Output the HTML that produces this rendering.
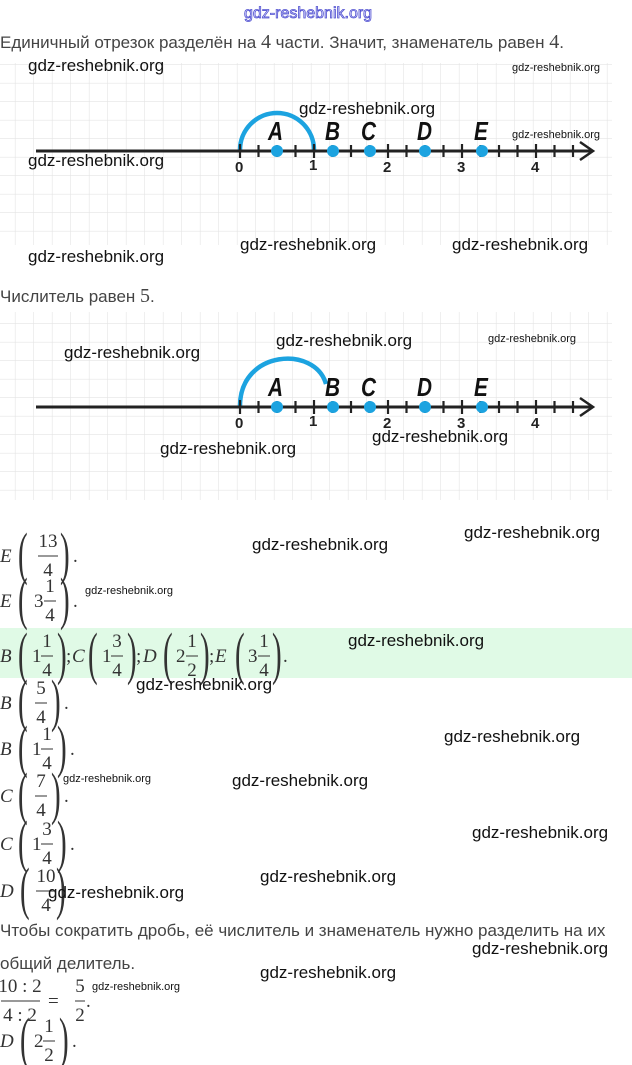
<!DOCTYPE html>
<html><head><meta charset="utf-8"><style>
html,body{margin:0;padding:0;background:#fff;width:632px;height:1065px;overflow:hidden}
svg{display:block}
.w{font-family:"Liberation Sans",sans-serif;font-size:17px;fill:#111}
.ws{font-family:"Liberation Sans",sans-serif;font-size:11px;fill:#111}
.t{font-family:"Liberation Sans","Noto Sans CJK SC",sans-serif;font-size:17px;fill:#444}
.m{font-family:"Liberation Serif",serif;font-size:19px;fill:#333}
.p{font-family:"Liberation Serif",serif;font-size:58px;fill:#333}
.mi{font-family:"Liberation Serif",serif;font-size:19px;font-style:italic;fill:#333}
.n{font-family:"Liberation Sans",sans-serif;font-size:15px;font-weight:bold;fill:#222}
.L{font-family:"Liberation Sans",sans-serif;font-size:26px;font-weight:bold;font-style:italic;fill:#111}
</style></head><body>
<svg width="632" height="1065" viewBox="0 0 632 1065" xmlns="http://www.w3.org/2000/svg">
<defs>
<pattern id="g" width="18.5" height="18.5" patternUnits="userSpaceOnUse" x="-3" y="65">
<path d="M18.5 0V18.5M0 18.5H18.5" fill="none" stroke="#e4e4e4" stroke-width="1.2"/></pattern>
<g id="ticks" stroke="#222" stroke-width="2.2">
<path d="M240 -7v14M258.5 -6v12M277 -6v12M295.5 -6v12M314 -7v14M332.5 -6v12M351 -6v12M369.5 -6v12M388 -7v14M406.5 -6v12M425 -6v12M443.5 -6v12M462 -7v14M480.5 -6v12M499 -6v12M517.5 -6v12M536 -7v14M554.5 -6v12M573 -6v12"/>
<path d="M36 0H592" stroke-width="3"/>
<path d="M580 -9L593 0L580 9" fill="none" stroke-width="2.5"/>
</g>
<g id="dots" fill="#1ca3e0"><circle cx="277" cy="0" r="6"/><circle cx="333" cy="0" r="6"/><circle cx="370" cy="0" r="6"/><circle cx="425" cy="0" r="6"/><circle cx="482" cy="0" r="6"/></g>
</defs>
<text x="244" y="18" font-family="Liberation Sans,sans-serif" font-size="16" fill="#e8e8ff" stroke="#4f4fd0" stroke-width="0.8">gdz-reshebnik.org</text>
<text class="t" x="0" y="48">Единичный отрезок разделён на <tspan font-family="Liberation Serif" style="font-size:20px">4</tspan> части. Значит, знаменатель равен <tspan font-family="Liberation Serif" style="font-size:20px">4</tspan>.</text>

<rect x="0" y="63" width="612" height="182" fill="url(#g)"/>
<path d="M240 150 A37 37 0 0 1 314 150" fill="none" stroke="#1ca3e0" stroke-width="4.5"/>
<g transform="translate(0,151)"><use href="#ticks"/><use href="#dots"/></g>
<g class="L"><text transform="translate(268,140) scale(0.8,1)">A</text><text transform="translate(325,140) scale(0.8,1)">B</text><text transform="translate(361,140) scale(0.8,1)">C</text><text transform="translate(417,140) scale(0.8,1)">D</text><text transform="translate(474,140) scale(0.8,1)">E</text></g>
<text class="n" x="235" y="172">0</text><text class="n" x="309" y="170">1</text><text class="n" x="383" y="172">2</text><text class="n" x="457" y="172">3</text><text class="n" x="531" y="172">4</text>

<text class="t" x="0" y="302">Числитель равен <tspan font-family="Liberation Serif" style="font-size:20px">5</tspan>.</text>
<rect x="0" y="312" width="612" height="188" fill="url(#g)"/>
<path d="M240 406 C240 350 315 345 326 384" fill="none" stroke="#1ca3e0" stroke-width="4.5"/>
<g transform="translate(0,407)"><use href="#ticks"/><use href="#dots"/></g>
<g class="L"><text transform="translate(268,396) scale(0.8,1)">A</text><text transform="translate(325,396) scale(0.8,1)">B</text><text transform="translate(361,396) scale(0.8,1)">C</text><text transform="translate(417,396) scale(0.8,1)">D</text><text transform="translate(474,396) scale(0.8,1)">E</text></g>
<text class="n" x="235" y="428">0</text><text class="n" x="309" y="426">1</text><text class="n" x="383" y="428">2</text><text class="n" x="457" y="428">3</text><text class="n" x="531" y="428">4</text>

<rect x="0" y="628" width="632" height="50" fill="#e0fae6"/>

<g transform="translate(0,555)">
<text class="mi" x="0" y="7">E</text>
<text class="p" transform="translate(18,18) scale(0.5,1)">(</text>
<text class="m" x="48" y="-8" text-anchor="middle">13</text><path d="M38 1H58" stroke="#333"/><text class="m" x="48" y="21" text-anchor="middle">4</text>
<text class="p" transform="translate(60,18) scale(0.5,1)">)</text><text class="m" x="73" y="7">.</text>
</g>
<g transform="translate(0,600)">
<text class="mi" x="0" y="7">E</text>
<text class="p" transform="translate(18,18) scale(0.5,1)">(</text>
<text class="m" x="34" y="7">3</text>
<text class="m" x="50" y="-8" text-anchor="middle">1</text><path d="M44 1H56" stroke="#333"/><text class="m" x="50" y="21" text-anchor="middle">4</text>
<text class="p" transform="translate(60,18) scale(0.5,1)">)</text><text class="m" x="73" y="7">.</text>
</g>
<g transform="translate(0,655)">
<text class="mi" x="0" y="7">B</text>
<text class="p" transform="translate(18,18) scale(0.5,1)">(</text>
<text class="m" x="32" y="7">1</text><text class="m" x="47" y="-8" text-anchor="middle">1</text><path d="M41 1H53" stroke="#333"/><text class="m" x="47" y="21" text-anchor="middle">4</text>
<text class="p" transform="translate(57,18) scale(0.5,1)">)</text>
<text class="m" x="66" y="7">;</text><text class="mi" x="72" y="7">C</text>
<text class="p" transform="translate(88,18) scale(0.5,1)">(</text>
<text class="m" x="102" y="7">1</text><text class="m" x="117" y="-8" text-anchor="middle">3</text><path d="M111 1H123" stroke="#333"/><text class="m" x="117" y="21" text-anchor="middle">4</text>
<text class="p" transform="translate(127,18) scale(0.5,1)">)</text>
<text class="m" x="136" y="7">;</text><text class="mi" x="143" y="7">D</text>
<text class="p" transform="translate(163,18) scale(0.5,1)">(</text>
<text class="m" x="176" y="7">2</text><text class="m" x="192" y="-8" text-anchor="middle">1</text><path d="M186 1H198" stroke="#333"/><text class="m" x="192" y="21" text-anchor="middle">2</text>
<text class="p" transform="translate(200,18) scale(0.5,1)">)</text>
<text class="m" x="209" y="7">;</text><text class="mi" x="215" y="7">E</text>
<text class="p" transform="translate(235,18) scale(0.5,1)">(</text>
<text class="m" x="248" y="7">3</text><text class="m" x="264" y="-8" text-anchor="middle">1</text><path d="M258 1H270" stroke="#333"/><text class="m" x="264" y="21" text-anchor="middle">4</text>
<text class="p" transform="translate(272,18) scale(0.5,1)">)</text><text class="m" x="283" y="7">.</text>
</g>
<g transform="translate(0,702)">
<text class="mi" x="0" y="7">B</text>
<text class="p" transform="translate(18,18) scale(0.5,1)">(</text>
<text class="m" x="41" y="-8" text-anchor="middle">5</text><path d="M35 1H47" stroke="#333"/><text class="m" x="41" y="21" text-anchor="middle">4</text>
<text class="p" transform="translate(51,18) scale(0.5,1)">)</text><text class="m" x="64" y="7">.</text>
</g>
<g transform="translate(0,748)">
<text class="mi" x="0" y="7">B</text>
<text class="p" transform="translate(18,18) scale(0.5,1)">(</text>
<text class="m" x="32" y="7">1</text><text class="m" x="47" y="-8" text-anchor="middle">1</text><path d="M41 1H53" stroke="#333"/><text class="m" x="47" y="21" text-anchor="middle">4</text>
<text class="p" transform="translate(57,18) scale(0.5,1)">)</text><text class="m" x="70" y="7">.</text>
</g>
<g transform="translate(0,795)">
<text class="mi" x="0" y="7">C</text>
<text class="p" transform="translate(18,18) scale(0.5,1)">(</text>
<text class="m" x="41" y="-8" text-anchor="middle">7</text><path d="M35 1H47" stroke="#333"/><text class="m" x="41" y="21" text-anchor="middle">4</text>
<text class="p" transform="translate(51,18) scale(0.5,1)">)</text><text class="m" x="64" y="7">.</text>
</g>
<g transform="translate(0,843)">
<text class="mi" x="0" y="7">C</text>
<text class="p" transform="translate(18,18) scale(0.5,1)">(</text>
<text class="m" x="32" y="7">1</text><text class="m" x="47" y="-8" text-anchor="middle">3</text><path d="M41 1H53" stroke="#333"/><text class="m" x="47" y="21" text-anchor="middle">4</text>
<text class="p" transform="translate(57,18) scale(0.5,1)">)</text><text class="m" x="70" y="7">.</text>
</g>
<g transform="translate(0,890)">
<text class="mi" x="0" y="7">D</text>
<text class="p" transform="translate(20,18) scale(0.5,1)">(</text>
<text class="m" x="46" y="-8" text-anchor="middle">10</text><path d="M36 1H56" stroke="#333"/><text class="m" x="46" y="21" text-anchor="middle">4</text>
<text class="p" transform="translate(56,18) scale(0.5,1)">)</text>
</g>
<text class="t" x="0" y="936">Чтобы сократить дробь, её числитель и знаменатель нужно разделить на их</text>
<text class="t" x="0" y="969">общий делитель.</text>
<g transform="translate(0,1000)">
<text class="m" x="20" y="-8" text-anchor="middle">10 : 2</text><path d="M1 1H40" stroke="#333"/><text class="m" x="20" y="21" text-anchor="middle">4 : 2</text>
<text class="m" x="48" y="7">=</text>
<text class="m" x="80" y="-8" text-anchor="middle">5</text><path d="M75 1H85" stroke="#333"/><text class="m" x="80" y="21" text-anchor="middle">2</text>
<text class="m" x="86" y="7">.</text>
</g>
<g transform="translate(0,1040)">
<text class="mi" x="0" y="7">D</text>
<text class="p" transform="translate(20,18) scale(0.5,1)">(</text>
<text class="m" x="34" y="7">2</text><text class="m" x="49" y="-8" text-anchor="middle">1</text><path d="M43 1H55" stroke="#333"/><text class="m" x="49" y="21" text-anchor="middle">2</text>
<text class="p" transform="translate(59,18) scale(0.5,1)">)</text><text class="m" x="72" y="7">.</text>
</g>

<text class="w" x="28" y="71">gdz-reshebnik.org</text>
<text class="ws" x="512" y="71">gdz-reshebnik.org</text>
<text class="w" x="299" y="114">gdz-reshebnik.org</text>
<text class="ws" x="512" y="138">gdz-reshebnik.org</text>
<text class="w" x="28" y="166">gdz-reshebnik.org</text>
<text class="w" x="240" y="250">gdz-reshebnik.org</text>
<text class="w" x="452" y="250">gdz-reshebnik.org</text>
<text class="w" x="28" y="262">gdz-reshebnik.org</text>
<text class="w" x="64" y="358">gdz-reshebnik.org</text>
<text class="w" x="276" y="346">gdz-reshebnik.org</text>
<text class="ws" x="488" y="342">gdz-reshebnik.org</text>
<text class="w" x="160" y="454">gdz-reshebnik.org</text>
<text class="w" x="372" y="442">gdz-reshebnik.org</text>
<text class="w" x="464" y="538">gdz-reshebnik.org</text>
<text class="w" x="252" y="550">gdz-reshebnik.org</text>
<text class="ws" x="85" y="594">gdz-reshebnik.org</text>
<text class="w" x="348" y="646">gdz-reshebnik.org</text>
<text class="w" x="136" y="690">gdz-reshebnik.org</text>
<text class="w" x="444" y="742">gdz-reshebnik.org</text>
<text class="ws" x="63" y="782">gdz-reshebnik.org</text>
<text class="w" x="232" y="786">gdz-reshebnik.org</text>
<text class="w" x="472" y="838">gdz-reshebnik.org</text>
<text class="w" x="260" y="882">gdz-reshebnik.org</text>
<text class="w" x="48" y="898">gdz-reshebnik.org</text>
<text class="w" x="472" y="954">gdz-reshebnik.org</text>
<text class="w" x="260" y="978">gdz-reshebnik.org</text>
<text class="ws" x="92" y="990">gdz-reshebnik.org</text>
</svg>
</body></html>
